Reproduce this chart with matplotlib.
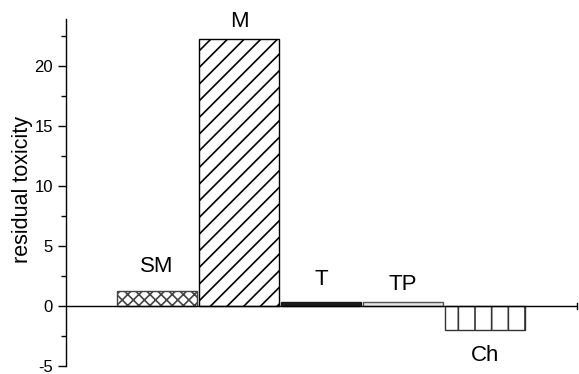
import numpy as np
import matplotlib.pyplot as plt
from matplotlib.ticker import MultipleLocator

plt.rcParams['font.family'] = ['Liberation Sans', 'DejaVu Sans']
plt.rcParams['hatch.linewidth'] = 1.2
plt.rcParams['axes.unicode_minus'] = False

# data
groups = ["SM", "M", "T", "TP", "Ch"]
toxicity = [1.25, 22.2, 0.33, 0.3, -2.0]

pos = np.arange(len(groups))
hatches = ["xxx", "//", "", "", "|"]
faces = ["white", "white", "#1a1a1a", "#e6e6e6", "white"]
edges = ["#444444", "black", "#1a1a1a", "#555555", "#333333"]

fig = plt.figure(figsize=(5.79, 3.74), dpi=100)
ax = fig.add_axes([0.114, 0.0214, 0.8826, 0.9276])

for i in range(len(groups)):
    ax.bar(pos[i], toxicity[i], width=0.975, color=faces[i], edgecolor=edges[i],
           hatch=hatches[i], linewidth=1.0)

# labels above / below the bars (baseline offsets)
offs = [1.58, 1.08, 1.42, 1.0, -2.58]
for i, g in enumerate(groups):
    ax.text(pos[i], toxicity[i] + offs[i], g, ha="center", va="baseline", fontsize=16)

ax.set_xlim(-1.11, 5.12)
ax.set_ylim(-5, 23.9)
ax.axhline(0, color="black", linewidth=1.0)
ax.plot([5.12, 5.12], [-0.25, 0.25], color="black", linewidth=1.0, clip_on=False)

for s in ["top", "right", "bottom"]:
    ax.spines[s].set_visible(False)
ax.spines["left"].set_linewidth(1.0)
ax.set_xticks([])
ax.yaxis.set_major_locator(MultipleLocator(5))
ax.yaxis.set_minor_locator(MultipleLocator(2.5))
ax.tick_params(axis="y", which="major", length=6, width=1.0, labelsize=12, pad=3.5)
ax.tick_params(axis="y", which="minor", length=3.5, width=1.0)
ax.set_ylabel("residual toxicity", fontsize=15.5)
ax.yaxis.set_label_coords(-0.064, 0.51)

fig.savefig("out.png", dpi=100)
